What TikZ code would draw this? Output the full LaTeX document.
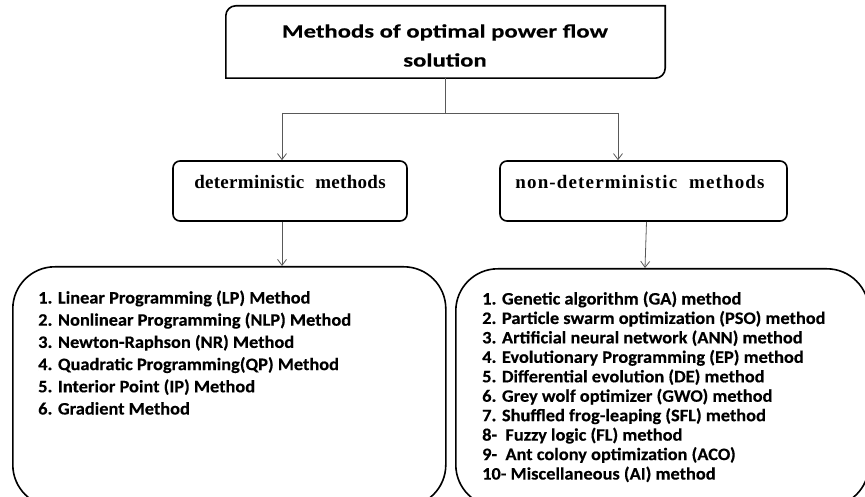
\documentclass[tikz,border=0pt]{standalone}
\usepackage{fontspec}
\setmainfont{Liberation Serif}
\newfontfamily\listfont[FakeStretch=1.05, BoldFeatures={FakeBold=0.3}]{Carlito}
\newfontfamily\titlefont[FakeStretch=1.3, BoldFeatures={FakeBold=0.2}]{Carlito}
\newfontfamily\headfont[LetterSpace=1.5]{Liberation Serif}
\newfontfamily\headwidefont[LetterSpace=6]{Liberation Serif}
\usetikzlibrary{arrows.meta}
\begin{document}
\begin{tikzpicture}[x=1pt,y=1pt,
  box/.style={draw, line width=1.6pt, rounded corners=7pt, inner sep=0pt},
  bigbox/.style={draw, line width=1.6pt, rounded corners=42pt, inner sep=0pt, anchor=north west},
  conn/.style={draw=black!65, line width=0.8pt},
  arr/.style={conn, -{Straight Barb[length=6pt,width=9pt]}},
  headtxt/.style={inner sep=0pt},
  listtxt/.style={font=\listfont\bfseries\fontsize{17.5}{20}\selectfont, anchor=base west, inner sep=0pt},
]
\useasboundingbox (0,0) rectangle (865,-497);
\clip (0,0) rectangle (865,-497);

% top box
\node[minimum width=439pt, minimum height=72pt, inner sep=0pt] (top) at (445.5,-42) {};
\draw[line width=1.6pt] (top.south west) -- ([yshift=-10pt]top.north west)
  arc[start angle=180, end angle=90, radius=10pt] -- (top.north east)
  -- ([yshift=10pt]top.south east) arc[start angle=0, end angle=-90, radius=10pt] -- cycle;
\node[font=\titlefont\bfseries\fontsize{19}{29}\selectfont, align=center, inner sep=0pt] (ttl) at (445,-45.5)
  {Methods of optimal power flow\\solution};

% second level
\node[box, minimum width=234pt, minimum height=60pt] (det) at (290,-191) {};
\node[headtxt, font=\headfont\bfseries\fontsize{19}{22}\selectfont] (dettxt) at (290,-182) {deterministic\hspace{6pt} methods};
\node[box, minimum width=287pt, minimum height=60pt] (nd) at (643.5,-191) {};
\node[headtxt, font=\headwidefont\bfseries\fontsize{19}{22}\selectfont] (ndtxt) at (640,-182) {non-deterministic\hspace{6pt} methods};

% big boxes
\node[bigbox, minimum width=433pt, minimum height=240pt] (lbox) at (12,-266) {};
\node[bigbox, minimum width=413pt, minimum height=238pt] (rbox) at (455,-268) {};

% lists
\foreach \t [count=\i] in {
  {1. Linear Programming (LP) Method},
  {2. Nonlinear Programming (NLP) Method},
  {3. Newton-Raphson (NR) Method},
  {4. Quadratic Programming(QP) Method},
  {5. Interior Point (IP) Method},
  {6. Gradient Method}}
  \node[listtxt] (l\i) at (38,{-303.5-22.2*(\i-1)}) {\t};

\foreach \t [count=\i] in {
  {1. Genetic algorithm (GA) method},
  {2. Particle swarm optimization (PSO) method},
  {3. Artificial neural network (ANN) method},
  {4. Evolutionary Programming (EP) method},
  {5. Differential evolution (DE) method},
  {6. Grey wolf optimizer (GWO) method},
  {7. Shuffled frog-leaping (SFL) method},
  {8-\ \ Fuzzy logic (FL) method},
  {9-\ \ Ant colony optimization (ACO)},
  {10- Miscellaneous (AI) method}}
  \node[listtxt] (r\i) at (482,{-304.5-19.45*(\i-1)}) {\t};

% connectors
\draw[conn] (top.south) -- ++(0,-35) coordinate (j);
\coordinate (jl) at (282,-113);
\coordinate (jr) at (618,-113);
\draw[conn] (jl) -- (jr);
\draw[arr] (jl) -- (jl |- det.north);
\draw[arr] (jr) -- (jr |- nd.north);
\draw[arr] ([xshift=-8pt]det.south) -- ([xshift=-8pt]det.south |- lbox.north);
\draw[arr] ([xshift=3pt]nd.south) -- ([xshift=1.5pt]nd.south |- rbox.north);
\end{tikzpicture}
\end{document}
